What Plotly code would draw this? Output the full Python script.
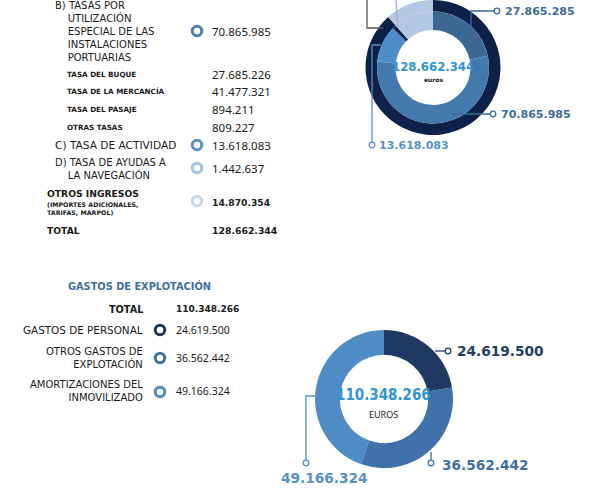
import plotly.graph_objects as go

# ingresos (top donut)
ing_labels = ["A) TASAS DE OCUPACIÓN", "B) TASAS POR UTILIZACIÓN", "C) TASA DE ACTIVIDAD",
              "D) TASA DE AYUDAS A LA NAVEGACIÓN", "OTROS INGRESOS"]
ing_values = [27865285, 70865985, 13618083, 1442637, 14870354]
ing_total = 128662344
sub_labels = ["TASA DEL BUQUE", "TASA DE LA MERCANCÍA", "TASA DEL PASAJE", "OTRAS TASAS"]
sub_values = ["27.685.226", "41.477.321", "894.211", "809.227"]

# gastos (bottom donut)
gas_labels = ["GASTOS DE PERSONAL", "OTROS GASTOS DE<br>EXPLOTACIÓN", "AMORTIZACIONES DEL<br>INMOVILIZADO"]
gas_values = [24619500, 36562442, 49166324]
gas_total = 110348266

W, H = 594, 502
NAVY = "#0e2249"
ING_COLORS = ["#3c6893", "#4479ae", "#4f8dc8", NAVY, "#b4c7e3"]
GAS_COLORS = ["#1f3962", "#3e72a8", "#4f8cc6"]
FONT = "DejaVu Sans"
NUMF = "Noto Sans"
NUM = "DejaVu Sans Condensed"
IND = "&nbsp;" * 4


def fmt(v):
    return f"{v:,}".replace(",", ".")


def dom(cx, cy, r):
    return dict(x=[(cx - r) / W, (cx + r) / W], y=[max(0, 1 - (cy + r) / H), min(1, 1 - (cy - r) / H)])


fig = go.Figure()

# top donut: outer navy ring + inner ring
fig.add_trace(go.Pie(values=[sum(ing_values[:4]), ing_values[4]], sort=False, direction="clockwise",
                     hole=0.83, marker=dict(colors=[NAVY, ING_COLORS[4]]), textinfo="none",
                     hoverinfo="skip", showlegend=False, domain=dom(433, 67.5, 67.5)))
fig.add_trace(go.Pie(values=ing_values, labels=ing_labels, sort=False, direction="clockwise",
                     hole=0.67, marker=dict(colors=ING_COLORS), textinfo="none",
                     showlegend=False, domain=dom(433, 67.5, 56)))

# bottom donut
fig.add_trace(go.Pie(values=gas_values, labels=gas_labels, sort=False, direction="clockwise",
                     hole=0.64, marker=dict(colors=GAS_COLORS), textinfo="none",
                     showlegend=False, domain=dom(384, 399, 69)))

# ring icons next to the lists
icon_x = [197, 197, 197, 197, 160, 160, 160]
icon_y = [31, 145, 168, 201, 330, 358, 392]
icon_c = ["#4f7db0", "#5b8fc6", "#a8bfdd", "#c8d6ec"] + GAS_COLORS
fig.add_trace(go.Scatter(x=icon_x, y=icon_y, mode="markers", hoverinfo="skip", showlegend=False,
                         marker=dict(symbol="circle-open", size=9.5, color=icon_c,
                                     line=dict(width=3, color=icon_c))))

ann = []


def txt(x, y, t, size=10.6, color="#1a1a1a", anchor="left", bold=False, family=None):
    if bold:
        t = f"<b>{t}</b>"
    ann.append(dict(x=x, y=y, xref="x", yref="y", text=t, showarrow=False, xanchor=anchor,
                    yanchor="middle", align=anchor, font=dict(size=size, color=color, family=family or FONT)))


# ingresos list
txt(53, 31, "<br>".join(["B) TASAS POR"] + [IND + s for s in
                                              ["UTILIZACIÓN", "ESPECIAL DE LAS", "INSTALACIONES", "PORTUARIAS"]]),
    size=10)
txt(210, 31, fmt(ing_values[1]), size=11.5, family=NUMF)
for i, (lab, val) in enumerate(zip(sub_labels, sub_values)):
    txt(65, 74 + i * 17.7, lab, size=7.2, bold=True)
    txt(210, 74 + i * 17.7, val, size=11.5, family=NUMF)
txt(53, 145, "C) TASA DE ACTIVIDAD")
txt(210, 145, fmt(ing_values[2]), size=11.5, family=NUMF)
txt(53, 168.5, "D) TASA DE AYUDAS A<br>" + IND + "LA NAVEGACIÓN", size=10)
txt(210, 168, fmt(ing_values[3]), size=11.5, family=NUMF)
txt(45, 193, "OTROS INGRESOS", size=9.2, bold=True)
txt(45, 208, "(IMPORTES ADICIONALES,<br>TARIFAS, MARPOL)", size=6.3, bold=True)
txt(210, 202, fmt(ing_values[4]), size=9.2, bold=True)
txt(45, 230, "TOTAL", size=9.2, bold=True)
txt(210, 230, fmt(ing_total), size=9.3, bold=True)

# gastos list
txt(66, 286, "GASTOS DE EXPLOTACIÓN", size=9.8, color="#3d6fa3", bold=True)
txt(145, 309, "TOTAL", size=9.7, anchor="right", bold=True)
txt(174, 309, fmt(gas_total), size=9, bold=True)
for lab, val, y in zip(gas_labels, gas_values, [330, 358, 391]):
    txt(145, y, lab, size=10.4 if "<br>" not in lab else 10, anchor="right")
    txt(174, y, fmt(val), size=10.5, family=NUMF)

# donut centres
txt(433, 66, fmt(ing_total), size=13, color="#2f95d6", anchor="center", bold=True, family=NUM)
txt(433, 79, "euros", size=6, anchor="center", bold=True)
txt(383, 395, fmt(gas_total), size=15, color="#2f95d6", anchor="center", bold=True, family=NUM)
txt(383, 414, "EUROS", size=9, anchor="center", family=NUMF)

# donut callouts
txt(503, 11, fmt(ing_values[0]), size=11, color="#3d6b9a", bold=True)
txt(499, 114, fmt(ing_values[1]), size=11, color="#3d6b9a", bold=True)
txt(377, 145, fmt(ing_values[2]), size=11, color="#5791c9", bold=True)
txt(455, 351, fmt(gas_values[0]), size=13.7, color="#243d63", bold=True)
txt(440, 465, fmt(gas_values[1]), size=13.7, color="#3f6f9f", bold=True)
txt(279, 478, fmt(gas_values[2]), size=13.7, color="#5591c8", bold=True)

shapes = []


def line(pts, color):
    path = "M " + " L ".join(f"{x},{y}" for x, y in pts)
    shapes.append(dict(type="path", xref="x", yref="y", path=path, line=dict(color=color, width=1.3)))


def dot(x, y, color):
    shapes.append(dict(type="circle", xref="x", yref="y", x0=x - 2.8, x1=x + 2.8, y0=y - 2.8, y1=y + 2.8,
                       fillcolor="white", line=dict(color=color, width=1.3)))


line([(497, 11), (471, 11), (471, 26)], "#3d6b9a")
dot(497, 11, "#3d6b9a")
line([(493, 114), (452, 114)], "#3d6b9a")
dot(493, 114, "#3d6b9a")
line([(372, 145), (372, 45), (381, 45)], "#5791c9")
dot(372, 145, "#5791c9")
line([(367, 0), (367, 28), (383, 28)], "#555555")
line([(396, 0), (398, 28)], "#9fb3cf")
line([(435, 351), (448, 351)], "#243d63")
dot(448, 351, "#243d63")
line([(431, 463), (431, 452)], "#3f6f9f")
dot(431, 463, "#3f6f9f")
line([(306, 463), (306, 396), (315, 396)], "#5591c8")
dot(306, 463, "#5591c8")

fig.update_layout(width=W, height=H, margin=dict(l=0, r=0, t=0, b=0), paper_bgcolor="white",
                  plot_bgcolor="rgba(0,0,0,0)", annotations=ann, shapes=shapes,
                  xaxis=dict(range=[0, W], visible=False, fixedrange=True),
                  yaxis=dict(range=[H, 0], visible=False, fixedrange=True))

# page body has a default margin; drop it so the figure sits at the window corner
fig.write_html("out.html", config={"displayModeBar": False},
               post_script="document.body.style.margin='0';")
